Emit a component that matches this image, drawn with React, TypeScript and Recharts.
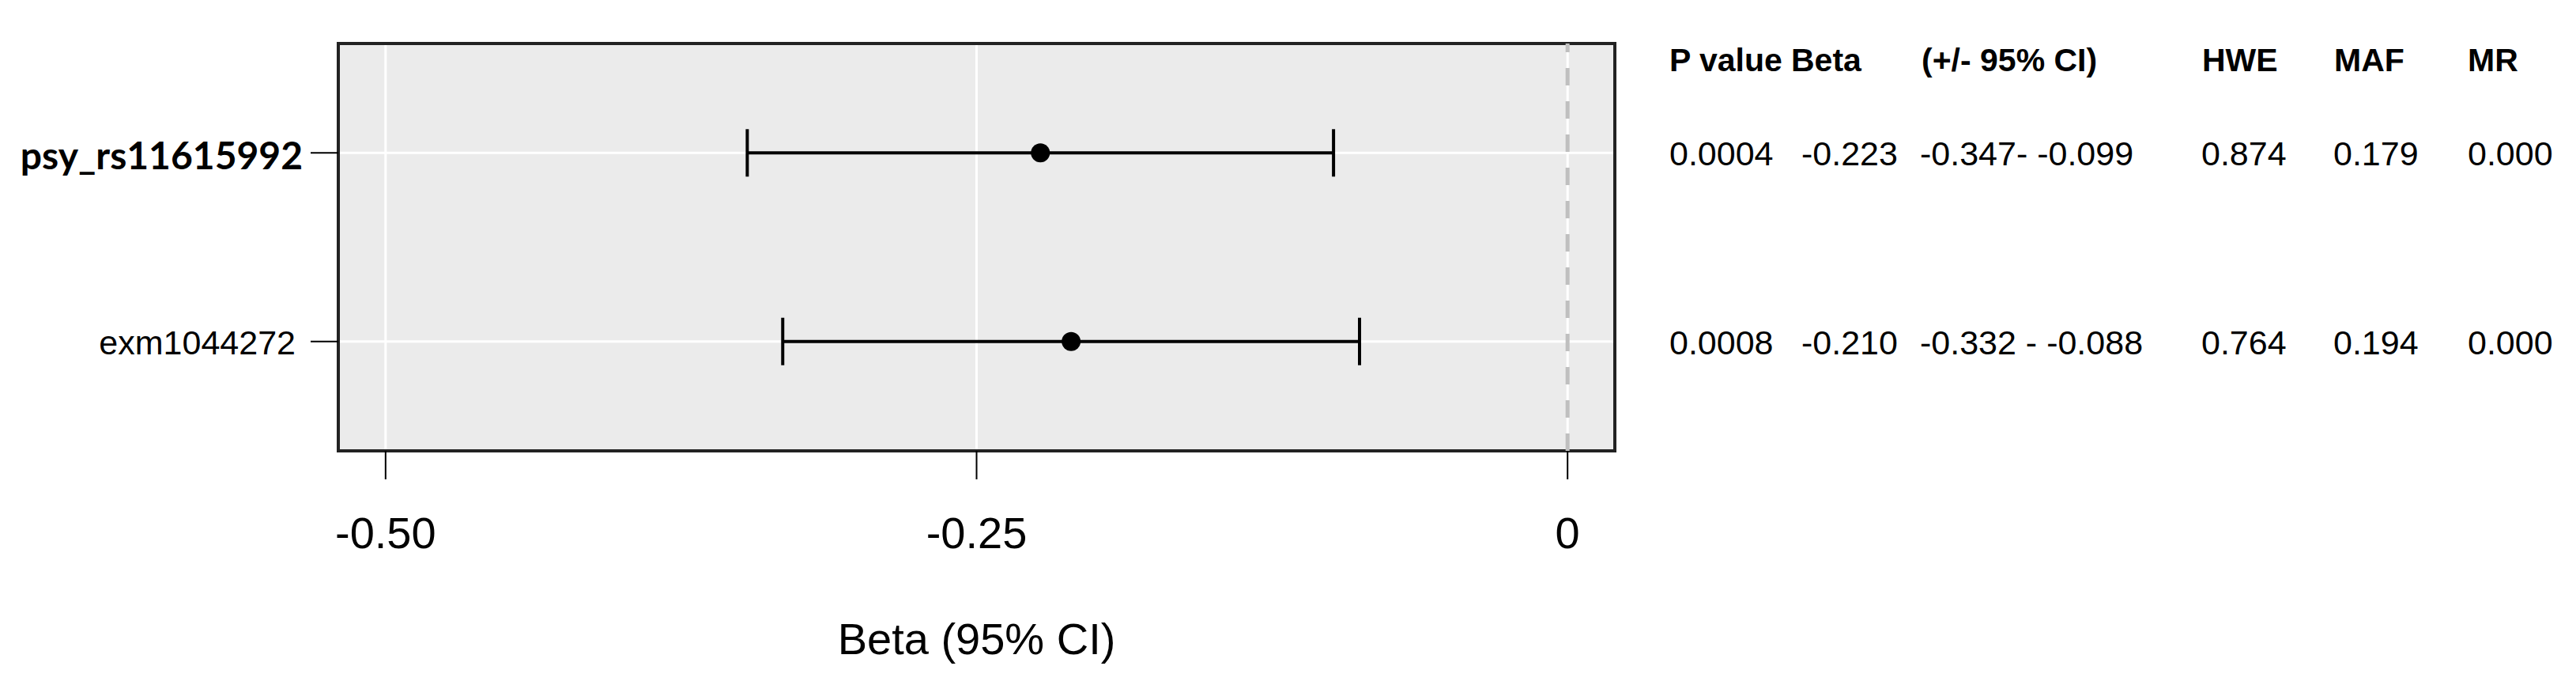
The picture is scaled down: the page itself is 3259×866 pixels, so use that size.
import {
  ScatterChart,
  Scatter,
  XAxis,
  YAxis,
  CartesianGrid,
  ErrorBar,
  ReferenceLine,
  ReferenceArea,
} from "recharts";

const snps = ["psy_rs11615992", "exm1044272"];
const snpBold = [true, false];
const betas = [-0.223, -0.21];
const ciLow = [-0.347, -0.332];
const ciHigh = [-0.099, -0.088];

const headers = ["P value", "Beta", "(+/- 95% CI)", "HWE", "MAF", "MR"];
const pValues = ["0.0004", "0.0008"];
const betaLabels = ["-0.223", "-0.210"];
const ciLabels = ["-0.347- -0.099", "-0.332 - -0.088"];
const hwe = ["0.874", "0.764"];
const maf = ["0.179", "0.194"];
const mr = ["0.000", "0.000"];

const xTicks = [-0.5, -0.25, 0];
const xTickLabels = ["-0.50", "-0.25", "0"];

const X_DOMAIN: [number, number] = [-0.52, 0.02];
const Y_DOMAIN: [number, number] = [0.42, 2.58];

const W = 3259;
const H = 866;
const ARIAL = "'Liberation Sans', Arial, sans-serif";

// row value 2 is the top row
const points = snps.map((name, i) => ({
  name,
  row: snps.length - i,
  beta: betas[i],
  err: [betas[i] - ciLow[i], ciHigh[i] - betas[i]],
}));

function SnpTick(props: any) {
  const { x, y, payload } = props;
  const i = snps.length - payload.value;
  const bold = snpBold[i];
  return (
    <text
      x={bold ? x : x - 9}
      y={y + (bold ? 21 : 16)}
      textAnchor="end"
      fontFamily={bold ? "Lato, 'Open Sans', sans-serif" : ARIAL}
      fontWeight={bold ? 700 : 400}
      fontSize={bold ? 48 : 43}
      fill="#000"
    >
      {snps[i]}
    </text>
  );
}

function Dot(props: any) {
  return <circle cx={props.cx} cy={props.cy} r={12} fill="#000" />;
}

// table columns to the right of the panel
const colX = [2112, 2279, 2429, 2785, 2952, 3122];
const headerX = [2112, 2266, 2431, 2786, 2953, 3122];
const rowBaseline = [209, 448];

function StatsTable() {
  const cols = [pValues, betaLabels, ciLabels, hwe, maf, mr];
  return (
    <svg
      width={W}
      height={H}
      style={{ position: "absolute", left: 0, top: 0, pointerEvents: "none" }}
    >
      {headers.map((h, c) => (
        <text key={h} x={headerX[c]} y={90} fontFamily={ARIAL} fontWeight={700} fontSize={41} fill="#000">
          {h}
        </text>
      ))}
      {snps.map((s, r) =>
        cols.map((col, c) => (
          <text key={s + c} x={colX[c]} y={rowBaseline[r]} fontFamily={ARIAL} fontSize={43} fill="#000">
            {col[r]}
          </text>
        )),
      )}
    </svg>
  );
}

export default function App() {
  return (
    <div style={{ position: "absolute", left: 0, top: 0, width: W, height: H, background: "#fff" }}>
      <ScatterChart width={W} height={H} margin={{ top: 55, right: 1216, bottom: 0, left: 0 }}>
        <CartesianGrid fill="#EBEBEB" stroke="#FFFFFF" strokeWidth={3} />
        <XAxis
          type="number"
          dataKey="beta"
          domain={X_DOMAIN}
          ticks={xTicks}
          interval={0}
          tickFormatter={(v: number) => xTickLabels[xTicks.indexOf(v)] ?? String(v)}
          axisLine={false}
          tickLine={{ stroke: "#000", strokeWidth: 2 }}
          tickSize={36}
          tickMargin={47}
          tick={{ fontSize: 56, fill: "#000", fontFamily: ARIAL }}
          height={296}
          label={{
            value: "Beta (95% CI)",
            position: "insideBottom",
            offset: 39,
            fontSize: 56,
            fill: "#000",
            fontFamily: ARIAL,
          }}
        />
        <YAxis
          type="number"
          dataKey="row"
          domain={Y_DOMAIN}
          ticks={[1, 2]}
          interval={0}
          width={428}
          axisLine={false}
          tickLine={{ stroke: "#000", strokeWidth: 2 }}
          tickSize={35}
          tickMargin={10}
          tick={<SnpTick />}
        />
        <ReferenceLine x={0} stroke="#BFBFBF" strokeWidth={5} strokeDasharray="22 20" />
        <Scatter data={points} shape={<Dot />} isAnimationActive={false}>
          <ErrorBar
            dataKey="err"
            direction="x"
            width={30}
            stroke="#000"
            strokeWidth={4}
            isAnimationActive={false}
          />
        </Scatter>
        <ReferenceArea
          x1={X_DOMAIN[0]}
          x2={X_DOMAIN[1]}
          y1={Y_DOMAIN[0]}
          y2={Y_DOMAIN[1]}
          fill="none"
          fillOpacity={0}
          stroke="#222"
          strokeWidth={4}
        />
      </ScatterChart>
      <StatsTable />
    </div>
  );
}
